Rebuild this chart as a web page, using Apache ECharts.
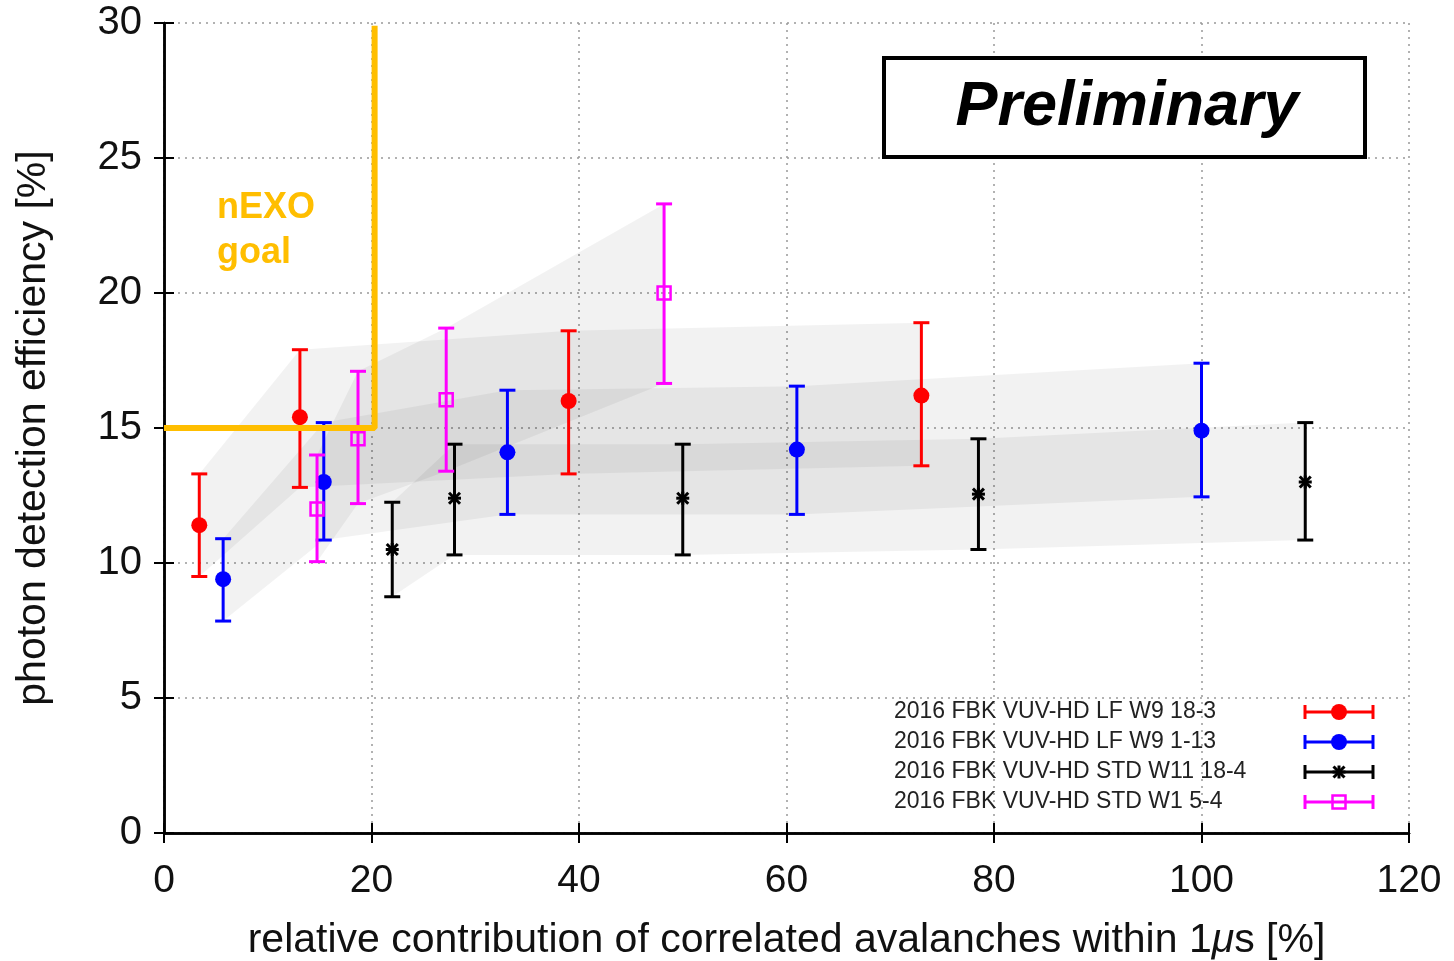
<!DOCTYPE html>
<html>
<head>
<meta charset="utf-8">
<script src="https://cdn.jsdelivr.net/npm/echarts@6/dist/echarts.min.js"></script>
<style>html,body{margin:0;padding:0;background:#fff}#c{width:1454px;height:961px}</style>
</head>
<body>
<div id="c"></div>
<script>
// ---- data (x: correlated avalanches %, y: PDE %, lo/hi: error bar ends) ----
const seriesNames = ['2016 FBK VUV-HD LF W9 18-3','2016 FBK VUV-HD LF W9 1-13','2016 FBK VUV-HD STD W11 18-4','2016 FBK VUV-HD STD W1 5-4'];
const redX  = [3.4, 13.1, 39.0, 73.0];
const redY  = [11.4, 15.4, 16.0, 16.2];
const redLo = [9.5, 12.8, 13.3, 13.6];
const redHi = [13.3, 17.9, 18.6, 18.9];

const blueX  = [5.7, 15.4, 33.1, 61.0, 100.0];
const blueY  = [9.4, 13.0, 14.1, 14.2, 14.9];
const blueLo = [7.85, 10.85, 11.8, 11.8, 12.45];
const blueHi = [10.9, 15.2, 16.4, 16.55, 17.4];

const blackX  = [22.0, 28.0, 50.0, 78.5, 110.0];
const blackY  = [10.5, 12.4, 12.4, 12.55, 13.0];
const blackLo = [8.75, 10.3, 10.3, 10.5, 10.85];
const blackHi = [12.25, 14.4, 14.4, 14.6, 15.2];

const magX  = [14.75, 18.7, 27.2, 48.2];
const magY  = [12.0, 14.6, 16.05, 20.0];
const magLo = [10.05, 12.2, 13.4, 16.65];
const magHi = [14.0, 17.1, 18.7, 23.3];

const goalX = [0, 20.3, 20.3];
const goalY = [15, 15, 29.9];

const xTicks = [0, 20, 40, 60, 80, 100, 120];
const yTicks = [0, 5, 10, 15, 20, 25, 30];

const colors = ['#ff0000', '#0000ff', '#000000', '#ff00ff'];
const markers = ['circle', 'circle', 'star', 'square'];
const orange = '#FFBE00';

function markerShapes(kind, cx, cy, color) {
  if (kind === 'circle') {
    return [{type:'circle', shape:{cx:cx, cy:cy, r:8}, style:{fill:color}}];
  }
  if (kind === 'square') {
    return [{type:'rect', shape:{x:cx-6.5, y:cy-6.5, width:13, height:13}, style:{fill:null, stroke:color, lineWidth:2.5}}];
  }
  const s = 6.5, d = 5.5;
  return [
    {type:'line', shape:{x1:cx-s, y1:cy, x2:cx+s, y2:cy}, style:{stroke:color, lineWidth:3}},
    {type:'line', shape:{x1:cx, y1:cy-s, x2:cx, y2:cy+s}, style:{stroke:color, lineWidth:3}},
    {type:'line', shape:{x1:cx-d, y1:cy-d, x2:cx+d, y2:cy+d}, style:{stroke:color, lineWidth:3}},
    {type:'line', shape:{x1:cx-d, y1:cy+d, x2:cx+d, y2:cy-d}, style:{stroke:color, lineWidth:3}}
  ];
}

function bandSeries(xs, lo, hi) {
  return {
    type: 'custom', silent: true, z: 1,
    data: xs.map((x, i) => [x, lo[i], hi[i]]),
    encode: {x: 0, y: [1, 2]},
    renderItem: function (params, api) {
      if (params.dataIndex !== 0) return;
      const pts = [];
      for (let i = 0; i < xs.length; i++) pts.push(api.coord([xs[i], hi[i]]));
      for (let i = xs.length - 1; i >= 0; i--) pts.push(api.coord([xs[i], lo[i]]));
      return {type: 'polygon', shape: {points: pts}, style: {fill: 'rgba(0,0,0,0.05)'}};
    }
  };
}

function errSeries(name, xs, ys, lo, hi, color, kind, z) {
  return {
    name: name, type: 'custom', z: z,
    data: xs.map((x, i) => [x, ys[i], lo[i], hi[i]]),
    encode: {x: 0, y: [1, 2, 3]},
    renderItem: function (params, api) {
      const p = api.coord([api.value(0), api.value(1)]);
      const pl = api.coord([api.value(0), api.value(2)]);
      const ph = api.coord([api.value(0), api.value(3)]);
      const cw = 8;
      const st = {stroke: color, lineWidth: 3};
      const children = [
        {type: 'line', shape: {x1: pl[0], y1: pl[1], x2: ph[0], y2: ph[1]}, style: st},
        {type: 'line', shape: {x1: pl[0]-cw, y1: pl[1], x2: pl[0]+cw, y2: pl[1]}, style: st},
        {type: 'line', shape: {x1: ph[0]-cw, y1: ph[1], x2: ph[0]+cw, y2: ph[1]}, style: st}
      ].concat(markerShapes(kind, p[0], p[1], color));
      return {type: 'group', children: children};
    }
  };
}

const chart = echarts.init(document.getElementById('c'), null, {renderer: 'canvas'});

const font = '"Liberation Sans", Arial, Helvetica, sans-serif';
const axisLineStyle = {color: '#000', width: 2.5};

// legend as graphics
const legendGraphics = [];
const legY0 = 712, legDy = 30;
seriesNames.forEach((n, i) => {
  const y = legY0 + i * legDy;
  legendGraphics.push({type: 'text', x: 894, y: y, z: 20,
    style: {text: n, font: '23px ' + font, fill: '#222', verticalAlign: 'middle'}});
  const st = {stroke: colors[i], lineWidth: 3};
  const kids = [
    {type: 'line', shape: {x1: 1305, y1: y, x2: 1373, y2: y}, style: st},
    {type: 'line', shape: {x1: 1305, y1: y-7, x2: 1305, y2: y+7}, style: st},
    {type: 'line', shape: {x1: 1373, y1: y-7, x2: 1373, y2: y+7}, style: st}
  ].concat(markerShapes(markers[i], 1339, y, colors[i]));
  legendGraphics.push({type: 'group', children: kids, z: 20});
});

const option = {
  backgroundColor: '#fff',
  animation: false,
  grid: {left: 164, right: 45, top: 23, bottom: 128, containLabel: false, outerBoundsMode: 'none'},
  xAxis: [{
    type: 'value', min: 0, max: 120, interval: 20,
    axisLine: {show: true, lineStyle: axisLineStyle},
    axisTick: {show: true, inside: true, length: 10, lineStyle: {color: '#000', width: 2}},
    axisLabel: {fontSize: 39, fontFamily: font, color: '#111', margin: 29,
      formatter: v => xTicks.includes(v) ? String(v) : ''},
    splitLine: {show: true, lineStyle: {color: '#999', type: [2, 5], width: 1.5}},
    name: '{n|relative contribution of correlated avalanches within 1}{i|μ}{n|s [%]}',
    nameLocation: 'middle', nameGap: 87,
    nameTextStyle: {rich: {
      n: {fontSize: 41, fontFamily: font, color: '#111'},
      i: {fontSize: 41, fontFamily: font, fontStyle: 'italic', color: '#111'}
    }}
  }, {
    type: 'value', min: 0, max: 120, interval: 20, position: 'top',
    axisLine: {show: true, lineStyle: axisLineStyle},
    axisTick: {show: true, inside: true, length: 10, lineStyle: {color: '#000', width: 2}},
    axisLabel: {show: false}, splitLine: {show: false}
  }],
  yAxis: [{
    type: 'value', min: 0, max: 30, interval: 5,
    axisLine: {show: true, lineStyle: axisLineStyle},
    axisTick: {show: true, inside: true, length: 10, lineStyle: {color: '#000', width: 2}},
    axisLabel: {fontSize: 40, fontFamily: font, color: '#111', margin: 22,
      formatter: v => yTicks.includes(v) ? String(v) : ''},
    splitLine: {show: true, lineStyle: {color: '#999', type: [2, 5], width: 1.5}},
    name: 'photon detection efficiency [%]',
    nameLocation: 'middle', nameGap: 110, nameRotate: 90,
    nameTextStyle: {fontSize: 41, fontFamily: font, color: '#111'}
  }, {
    type: 'value', min: 0, max: 30, interval: 5, position: 'right',
    axisLine: {show: true, lineStyle: axisLineStyle},
    axisTick: {show: true, inside: true, length: 10, lineStyle: {color: '#000', width: 2}},
    axisLabel: {show: false}, splitLine: {show: false}
  }],
  series: [
    bandSeries(redX, redLo, redHi),
    bandSeries(blueX, blueLo, blueHi),
    bandSeries(blackX, blackLo, blackHi),
    bandSeries(magX, magLo, magHi),
    errSeries(seriesNames[0], redX, redY, redLo, redHi, colors[0], markers[0], 5),
    errSeries(seriesNames[1], blueX, blueY, blueLo, blueHi, colors[1], markers[1], 6),
    errSeries(seriesNames[2], blackX, blackY, blackLo, blackHi, colors[2], markers[2], 7),
    errSeries(seriesNames[3], magX, magY, magLo, magHi, colors[3], markers[3], 8),
    {
      name: 'nEXO goal', type: 'line', z: 10, silent: true,
      data: goalX.map((x, i) => [x, goalY[i]]),
      showSymbol: false, symbol: 'none',
      lineStyle: {color: orange, width: 6},
      clip: false
    }
  ],
  graphic: [
    {type: 'text', x: 217, y: 186, z: 20,
      style: {text: 'nEXO\ngoal', font: 'bold 36px ' + font, fill: orange, lineHeight: 45}},
    {type: 'rect', x: 884, y: 58, z: 20,
      shape: {width: 481, height: 99}, style: {fill: '#fff', stroke: '#000', lineWidth: 4}},
    {type: 'text', z: 21, x: 1127, y: 108,
      style: {text: 'Preliminary', font: 'italic bold 63px ' + font, fill: '#000', align: 'center', verticalAlign: 'middle'}}
  ].concat(legendGraphics)
};
chart.setOption(option);
</script>
</body>
</html>
